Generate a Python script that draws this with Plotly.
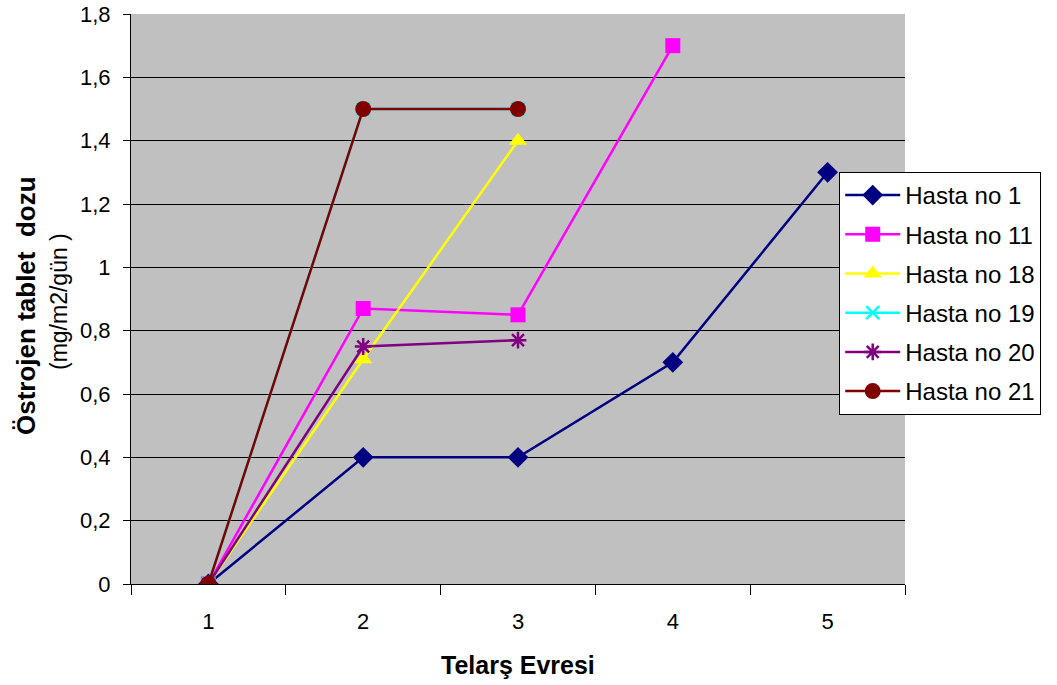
import plotly.graph_objects as go

# Telarş evresi (x categories) and estrogen tablet dose per patient
stages = ["1", "2", "3", "4", "5"]
hasta_1 = [0, 0.4, 0.4, 0.7, 1.3]
hasta_11 = [0, 0.87, 0.85, 1.7]
hasta_18 = [0, 0.71, 1.4]
hasta_19 = [0, 1.5, 1.5]
hasta_20 = [0, 0.75, 0.77]
hasta_21 = [0, 1.5, 1.5]

y_tick_vals = [0, 0.2, 0.4, 0.6, 0.8, 1.0, 1.2, 1.4, 1.6, 1.8]
y_tick_text = ["0", "0,2", "0,4", "0,6", "0,8", "1", "1,2", "1,4", "1,6", "1,8"]

series = [
    ("Hasta no 1", hasta_1, "#000080", dict(symbol="diamond", size=16)),
    ("Hasta no 11", hasta_11, "#FF00FF", dict(symbol="square", size=15)),
    ("Hasta no 18", hasta_18, "#FFFF00", dict(symbol="triangle-up", size=16)),
    ("Hasta no 19", hasta_19, "#00FFFF", dict(symbol="x-thin", size=13, line=dict(width=2.5, color="#00FFFF"))),
    ("Hasta no 20", hasta_20, "#800080", dict(symbol="asterisk", size=14, line=dict(width=2.5, color="#800080"))),
    ("Hasta no 21", hasta_21, "#800000", dict(symbol="circle", size=16)),
]

fig = go.Figure()
for i, (name, vals, color, mk) in enumerate(series):
    fig.add_trace(go.Scatter(
        x=stages[:len(vals)], y=vals, name=name, mode="lines+markers",
        line=dict(color=color, width=2.5), legendgroup=str(i),
        marker=dict(color=color, **mk),
    ))

font_family = "Liberation Sans, Arial, sans-serif"

fig.update_layout(
    width=1057, height=685,
    margin=dict(l=131, r=152, t=14, b=101, autoexpand=False),
    paper_bgcolor="white", plot_bgcolor="#C0C0C0",
    font=dict(family=font_family, size=22, color="black"),
    showlegend=True,
    legend=dict(
        x=0.915, y=0.7228, xanchor="left", yanchor="top",
        bgcolor="white", bordercolor="black", borderwidth=1,
        font=dict(size=24), tracegroupgap=5, itemwidth=55,
    ),
    xaxis=dict(
        type="category", categoryorder="array", categoryarray=stages,
        range=[-0.5, 4.5], tickson="boundaries", ticks="outside", ticklen=10,
        tickcolor="black", showline=True, linecolor="black", linewidth=1,
        showgrid=False, zeroline=False, ticklabelstandoff=18,
        tickfont=dict(size=22), automargin=False,
    ),
    yaxis=dict(
        range=[0, 1.8], tickvals=y_tick_vals, ticktext=y_tick_text,
        ticks="outside", ticklen=7, tickcolor="black", showline=True,
        linecolor="black", linewidth=1, showgrid=True, gridcolor="black",
        gridwidth=1, zeroline=False, tickfont=dict(size=22),
        ticklabelstandoff=8, automargin=False,
    ),
    annotations=[
        dict(text="<b>Östrojen tablet&nbsp;&nbsp;dozu</b>", textangle=-90,
             xref="paper", yref="paper", x=(26 - 131) / 774, y=(584 - 306) / 570,
             xanchor="center", yanchor="middle", showarrow=False,
             font=dict(size=26)),
        dict(text="(mg/m2/gün )", textangle=-90,
             xref="paper", yref="paper", x=(59 - 131) / 774, y=(584 - 302) / 570,
             xanchor="center", yanchor="middle", showarrow=False,
             font=dict(size=23)),
        dict(text="<b>Telarş Evresi</b>", xref="paper", yref="paper",
             x=(518 - 131) / 774, y=(584 - 665) / 570,
             xanchor="center", yanchor="middle", showarrow=False,
             font=dict(size=25)),
    ],
)

fig.write_html("out.html")
